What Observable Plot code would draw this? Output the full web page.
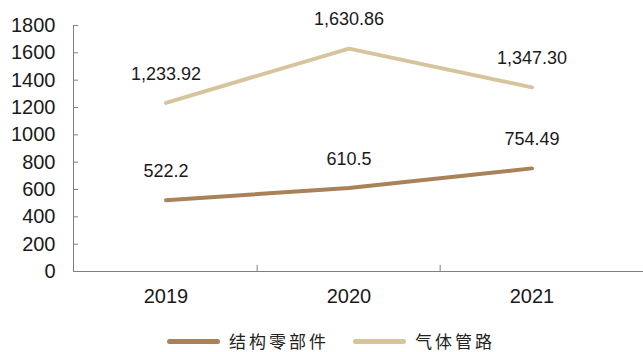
<!DOCTYPE html>
<html>
<head>
<meta charset="utf-8">
<script src="https://cdn.jsdelivr.net/npm/d3@7"></script>
<script src="https://cdn.jsdelivr.net/npm/@observablehq/plot@0.6"></script>
<style>
  html, body { margin: 0; padding: 0; background: #fff; }
  #chart { width: 643px; height: 352px; position: relative; overflow: hidden; }
  .legend { display: flex; align-items: center; height: 46px; padding-left: 167px; font-family: "Noto Sans CJK SC", sans-serif; font-size: 17px; line-height: 20px; color: #222; letter-spacing: 3px; }
  .legend .item { display: flex; align-items: center; margin-right: 24px; }
  .legend .sw { width: 53px; height: 5px; border-radius: 3px; margin-right: 9px; }
</style>
</head>
<body>
<div id="chart"></div>
<script>
const years = ["2019", "2020", "2021"];
const seriesNames = ["结构零部件", "气体管路"];
const structuralParts = [522.2, 610.5, 754.49];
const gasPipes = [1233.92, 1630.86, 1347.30];
const labelsStructural = ["522.2", "610.5", "754.49"];
const labelsGas = ["1,233.92", "1,630.86", "1,347.30"];
const yTicks = [0, 200, 400, 600, 800, 1000, 1200, 1400, 1600, 1800];
const colors = ["#A98259", "#D6C59C"];

const rows = [];
years.forEach((y, i) => {
  rows.push({year: y, series: seriesNames[0], value: structuralParts[i], label: labelsStructural[i]});
  rows.push({year: y, series: seriesNames[1], value: gasPipes[i], label: labelsGas[i]});
});

const W = 643, H = 318;
const xRange = [73, 624];
const step = (xRange[1] - xRange[0]) / years.length;
const font = "'Liberation Sans', Arial, sans-serif";
const axisColor = "#808080";

const plot = Plot.plot({
  width: W,
  height: H,
  marginLeft: 73,
  marginRight: 0,
  marginTop: 25,
  marginBottom: 47,
  style: {fontFamily: font, fontSize: "18px", color: "#1a1a1a", background: "#fff"},
  x: {type: "band", domain: years, range: xRange, padding: 0},
  y: {domain: [0, 1800]},
  color: {domain: seriesNames, range: colors},
  marks: [
    Plot.axisY(yTicks, {tickSize: 0, tickPadding: 18, tickFormat: d => String(d), label: null, fontSize: 20, fill: "#1a1a1a"}),
    Plot.axisY(yTicks, {tickSize: 5, dx: 5, tickFormat: () => "", label: null, stroke: axisColor}),
    Plot.frame({anchor: "left", stroke: axisColor}),
    Plot.ruleY([0], {stroke: axisColor}),
    Plot.ruleX(years.slice(1), {x: d => d, dx: -step / 2, y1: 0, y2: 45, stroke: axisColor}),
    Plot.axisX(years, {tickSize: 0, tickPadding: 17.5, label: null, fontSize: 20, fill: "#1a1a1a"}),
    Plot.line(rows, {x: "year", y: "value", z: "series", stroke: "series", strokeWidth: 4, strokeLinecap: "round", strokeLinejoin: "round"}),
    Plot.text(rows, {x: "year", y: "value", text: "label", dy: -29, fontSize: 18, fill: "#1a1a1a"})
  ]
});

const chart = document.getElementById("chart");
chart.appendChild(plot);

const legend = document.createElement("div");
legend.className = "legend";
seriesNames.forEach((name, i) => {
  const item = document.createElement("div");
  item.className = "item";
  const sw = document.createElement("span");
  sw.className = "sw";
  sw.style.background = colors[i];
  const t = document.createElement("span");
  t.textContent = name;
  item.appendChild(sw);
  item.appendChild(t);
  legend.appendChild(item);
});
chart.appendChild(legend);
</script>
</body>
</html>
